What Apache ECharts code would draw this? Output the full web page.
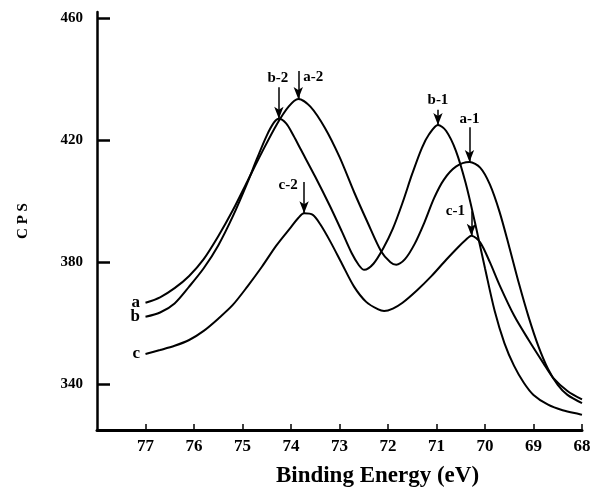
<!DOCTYPE html>
<html>
<head>
<meta charset="utf-8">
<script src="https://cdn.jsdelivr.net/npm/echarts@6/dist/echarts.min.js"></script>
<style>
  html, body { margin: 0; padding: 0; background: #fff; }
  #chart { width: 595px; height: 493px; }
</style>
</head>
<body>
<div id="chart"></div>
<script>
// ---- data ----
const energyA = [77.0, 76.7, 76.4, 76.1, 75.8, 75.5, 75.2, 74.9, 74.6, 74.3, 74.05, 73.85, 73.6, 73.3, 73.0, 72.7, 72.42, 72.14, 71.95, 71.83, 71.65, 71.45, 71.25, 71.05, 70.85, 70.6, 70.32, 70.1, 69.9, 69.7, 69.5, 69.3, 69.1, 68.9, 68.7, 68.5, 68.3, 68.0];
const cpsA    = [366.7, 368.5, 371.5, 375.5, 381, 388.5, 397, 406.5, 416, 425, 431, 433.5, 431, 424, 414.5, 403, 393, 383.5, 380, 379.2, 381, 386, 393, 401, 407, 411.3, 412.8, 411, 405.5, 396.5, 385, 373, 362, 352.5, 345, 339.8, 336.5, 333.8];

const energyB = [77.0, 76.7, 76.4, 76.1, 75.8, 75.5, 75.2, 74.9, 74.7, 74.5, 74.35, 74.25, 74.1, 73.95, 73.8, 73.5, 73.2, 72.95, 72.75, 72.6, 72.49, 72.3, 72.1, 71.9, 71.7, 71.5, 71.3, 71.15, 70.97, 70.8, 70.6, 70.4, 70.2, 70.0, 69.8, 69.6, 69.4, 69.2, 69.0, 68.7, 68.4, 68.0];
const cpsB    = [362.1, 363.5, 366.5, 372, 378, 385.5, 395, 406, 414, 421.5, 425.8, 427, 425.5, 421.5, 417, 408, 398.5, 390, 383, 379, 377.5, 379.5, 384.5, 391, 399.5, 409, 417.5, 422, 425, 423, 416.5, 406, 392.5, 378, 364, 353.5, 346, 340.5, 336.5, 333.3, 331.5, 330];

const energyC = [77.0, 76.7, 76.4, 76.1, 75.8, 75.5, 75.2, 74.9, 74.6, 74.3, 74.0, 73.85, 73.73, 73.55, 73.4, 73.18, 72.95, 72.7, 72.45, 72.2, 72.08, 71.9, 71.7, 71.4, 71.1, 70.8, 70.55, 70.4, 70.28, 70.1, 69.9, 69.7, 69.4, 69.1, 68.8, 68.59, 68.3, 68.0];
const cpsC    = [349.9, 351.2, 352.6, 354.5, 357.5, 361.5, 366, 372, 378.5, 385.5, 391.5, 394.5, 396, 395.5, 392.5, 386.5, 379.5, 372, 367, 364.5, 364, 364.8, 366.7, 370.8, 375.5, 380.8, 385, 387.3, 388.7, 386.5, 380, 372.5, 362.5, 354.5, 347, 342, 337.8, 335];

const curveNames = ['a', 'b', 'c'];

const xTicks = [77, 76, 75, 74, 73, 72, 71, 70, 69, 68];
const yTicks = [340, 380, 420, 460];

// peak annotations (arrow from arrowTopCps down to peakCps at peakEnergy)
const peakLabels   = ['a-2', 'b-2', 'c-2', 'a-1', 'b-1', 'c-1'];
const peakSeries   = [0, 1, 2, 0, 1, 2];
const peakEnergy   = [73.85, 74.25, 73.73, 70.32, 70.97, 70.28];
const peakCps      = [433.5, 427, 396, 412.8, 425, 388.7];
const arrowTopCps  = [442.7, 437.3, 406.3, 424.2, 430, 396.7];

// ---- styles ----
const FONT = '"Liberation Serif", "Times New Roman", serif';
const labelOffsets = [[15, 6], [-1, -9], [-16, 3], [0, -8], [0, -10], [-16, 0]];

function pairs(xs, ys) { return xs.map((x, i) => [x, ys[i]]); }
const curves = [pairs(energyA, cpsA), pairs(energyB, cpsB), pairs(energyC, cpsC)];

const series = curves.map((data, s) => {
  const arrows = [];
  const texts = [];
  peakLabels.forEach((lab, i) => {
    if (peakSeries[i] !== s) return;
    arrows.push([{ coord: [peakEnergy[i], arrowTopCps[i]] }, { coord: [peakEnergy[i], peakCps[i]] }]);
    texts.push({
      name: lab,
      coord: [peakEnergy[i], arrowTopCps[i]],
      label: { offset: labelOffsets[i] }
    });
  });
  texts.push({
    name: curveNames[s],
    coord: data[0],
    label: { position: 'left', distance: 5, fontSize: 17 }
  });
  return {
    type: 'line',
    name: curveNames[s],
    data: data,
    showSymbol: false,
    smooth: 0.3,
    lineStyle: { color: '#000', width: 2 },
    animation: false,
    silent: true,
    markLine: {
      silent: true,
      animation: false,
      symbol: ['none', 'arrow'],
      symbolSize: [7, 12],
      label: { show: false },
      lineStyle: { color: '#000', width: 1.5, type: 'solid' },
      data: arrows
    },
    markPoint: {
      silent: true,
      animation: false,
      symbol: 'circle',
      symbolSize: 1,
      itemStyle: { color: 'rgba(0,0,0,0)' },
      label: {
        show: true,
        position: 'inside',
        formatter: '{b}',
        color: '#000',
        fontFamily: FONT,
        fontWeight: 'bold',
        fontSize: 15
      },
      data: texts
    }
  };
});

const chart = echarts.init(document.getElementById('chart'));
chart.setOption({
  backgroundColor: '#fff',
  animation: false,
  grid: { left: 97, right: 13, top: 12, bottom: 60, containLabel: false },
  xAxis: {
    type: 'value',
    inverse: true,
    min: 68,
    max: 78,
    name: 'Binding Energy (eV)',
    nameLocation: 'middle',
    nameGap: 35,
    nameTextStyle: {
      fontFamily: FONT, fontWeight: 'bold', fontSize: 23, color: '#000',
      padding: [0, 0, 0, 76]
    },
    axisLine: { show: true, onZero: false, lineStyle: { color: '#000', width: 3 } },
    axisTick: { show: true, inside: true, length: 6, lineStyle: { color: '#000', width: 1.5 }, customValues: xTicks },
    axisLabel: { color: '#000', fontFamily: FONT, fontWeight: 'bold', fontSize: 17, margin: 8, customValues: xTicks },
    splitLine: { show: false }
  },
  yAxis: {
    type: 'value',
    min: 325,
    max: 462,
    name: 'C P S',
    nameLocation: 'middle',
    nameGap: 66,
    nameTextStyle: { fontFamily: FONT, fontWeight: 'bold', fontSize: 15, color: '#000' },
    axisLine: { show: true, onZero: false, lineStyle: { color: '#000', width: 2.5 } },
    axisTick: { show: true, inside: true, length: 13, lineStyle: { color: '#000', width: 2.5 }, customValues: yTicks },
    axisLabel: { color: '#000', fontFamily: FONT, fontWeight: 'bold', fontSize: 15, margin: 14, customValues: yTicks },
    splitLine: { show: false }
  },
  series: series
});
</script>
</body>
</html>
